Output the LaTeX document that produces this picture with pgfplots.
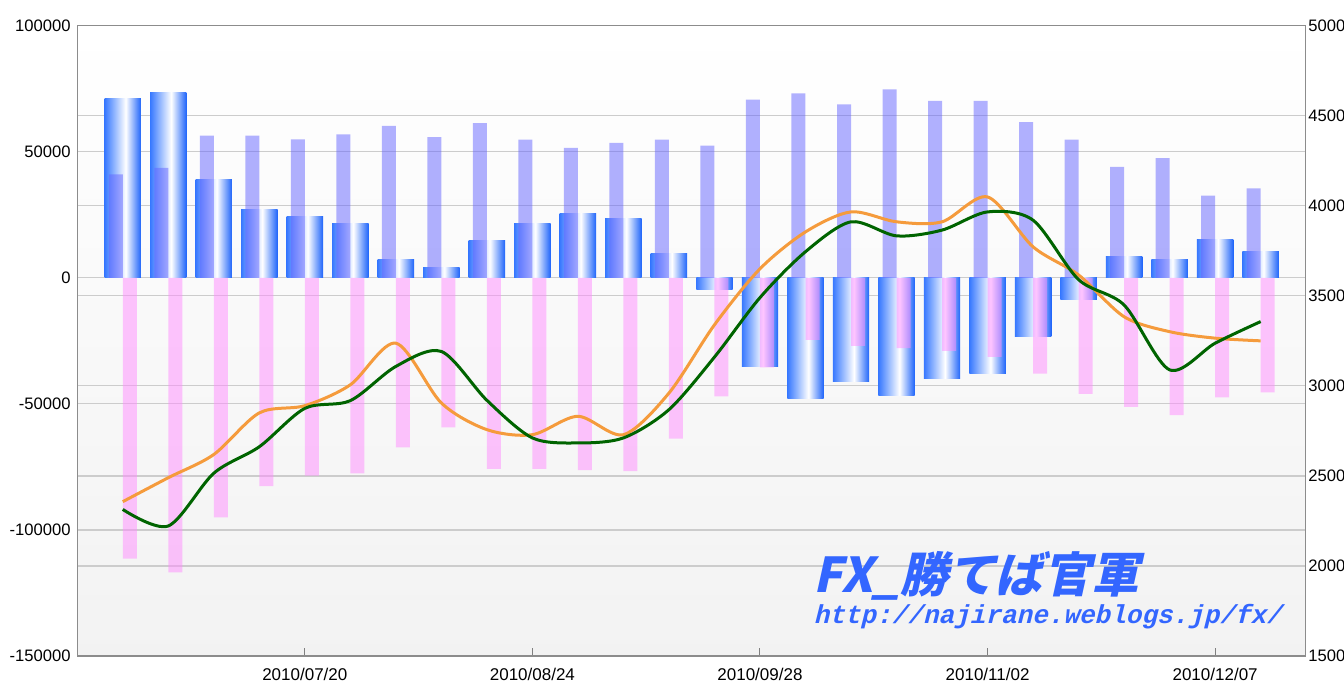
\documentclass[border=0pt]{standalone}
\usepackage{pgfplots}
\usepackage{pgfplotstable}
\pgfplotsset{compat=1.18}
\usepackage{fontspec}
\setmainfont{Liberation Sans}
\newfontfamily\wmfont[FakeSlant=0.22]{Noto Sans CJK JP}
\newfontfamily\urlfont[FakeSlant=0.25]{Liberation Mono}
\definecolor{bl1}{RGB}{55,120,255}
\definecolor{bl3}{RGB}{150,185,255}
\definecolor{bl2}{RGB}{30,100,250}
\definecolor{lav}{RGB}{100,100,255}
\definecolor{pnk}{RGB}{255,140,255}
\definecolor{gr}{RGB}{0,100,0}
\definecolor{org}{RGB}{245,155,60}
\definecolor{wm}{RGB}{51,102,255}
\pgfdeclarehorizontalshading{bluebar}{100bp}{color(0bp)=(bl1); color(25bp)=(bl1); color(39bp)=(bl3); color(54bp)=(white); color(75bp)=(bl2); color(100bp)=(bl2)}
\pgfplotstableread{
i net long short g o
0 71200 41000 -111400 2314 2357
1 73600 43600 -116800 2222 2490
2 39100 56400 -95000 2515 2619
3 27100 56400 -82600 2662 2850
4 24200 54900 -78500 2875 2890
5 21700 56900 -77600 2918 3006
6 7300 60300 -67200 3108 3237
7 3900 55800 -59300 3191 2905
8 14700 61400 -75800 2920 2757
9 21700 54800 -75800 2711 2729
10 25600 51500 -76300 2683 2831
11 23700 53500 -76700 2711 2729
12 9800 54800 -63800 2868 2960
13 -4800 52400 -47000 3160 3339
14 -35200 70700 -35500 3490 3650
15 -47800 73200 -24600 3745 3855
16 -41100 68800 -27000 3911 3966
17 -46500 74700 -27900 3833 3911
18 -40000 70200 -29000 3865 3911
19 -38000 70200 -31400 3966 4049
20 -23300 61800 -38000 3920 3772
21 -8400 54800 -46000 3590 3616
22 8400 44000 -51200 3449 3384
23 7400 47500 -54500 3089 3301
24 15300 32600 -47400 3237 3265
25 10300 35500 -45400 3357 3250
}\data
\begin{document}
\begin{tikzpicture}
\useasboundingbox (0pt,0pt) rectangle (672pt,341pt);
\begin{axis}[
  at={(38.85pt,13pt)}, anchor=south west,
  scale only axis, width=614pt, height=315.15pt,
  xmin=-0.99, xmax=25.99, ymin=-150000, ymax=100000,
  ytick={-150000,-100000,-50000,0,50000,100000},
  extra y ticks={64285.7,28571.4,-7142.9,-42857.1,-78571.4,-114285.7},
  extra y tick labels={},
  extra y tick style={grid=major, major tick length=0pt},
  ymajorgrids,
  grid style={draw=black!20, line width=0.6pt},
  axis line style={draw=black!45, line width=0.6pt},
  xtick={4,9,14,19,24},
  xticklabels={2010/07/20,2010/08/24,2010/09/28,2010/11/02,2010/12/07},
  xtick pos=bottom, ytick pos=left,
  ytick style={draw=none},
  xtick style={draw=black!50, line width=0.5pt},
  major tick length=4pt,
  tick align=inside,
  scaled y ticks=false,
  yticklabel style={font=\fontsize{8.3}{10}\selectfont, /pgf/number format/fixed, /pgf/number format/1000 sep={}, /pgf/number format/assume math mode=true},
  xticklabel style={font=\fontsize{8.5}{10}\selectfont, yshift=-2.5pt},
  axis background/.style={shade, top color=white, bottom color=black!5},
]
\pgfplotsinvokeforeach{0,...,25}{
  \addplot[ybar, bar width=0.80, bar shift=0, draw=none, shading=bluebar,
    restrict x to domain=#1:#1] table[x=i,y=net]{\data};
}
\addplot[ybar, bar width=0.3076, bar shift=-0.154, draw=none, fill=lav, fill opacity=0.5] table[x=i,y=long]{\data};
\addplot[ybar, bar width=0.3076, bar shift=0.154, draw=none, fill=pnk, fill opacity=0.5] table[x=i,y=short]{\data};
\end{axis}
\begin{axis}[
  at={(38.85pt,13pt)}, anchor=south west,
  scale only axis, width=614pt, height=315.15pt,
  xmin=-0.99, xmax=25.99, ymin=1500, ymax=5000,
  axis y line*=right, axis x line=none,
  axis line style={draw=black!45, line width=0.6pt},
  ytick={1500,2000,2500,3000,3500,4000,4500,5000},
  ytick style={draw=none},
  yticklabel style={font=\fontsize{8.3}{10}\selectfont, xshift=-2.2pt, /pgf/number format/fixed, /pgf/number format/1000 sep={}, /pgf/number format/assume math mode=true},
]
\addplot[org, line width=1.5pt, smooth] table[x=i,y=o]{\data};
\addplot[gr, line width=1.5pt, smooth] table[x=i,y=g]{\data};
\node[anchor=base west, text=wm, inner sep=0pt] at (rel axis cs:0.599,0.1) {\wmfont\bfseries\fontsize{24}{24}\selectfont FX\_勝てば官軍};
\node[anchor=base west, text=wm, inner sep=0pt] at (rel axis cs:0.599,0.052) {\urlfont\bfseries\fontsize{13}{13}\selectfont http://najirane.weblogs.jp/fx/};
\end{axis}
\end{tikzpicture}
\end{document}
